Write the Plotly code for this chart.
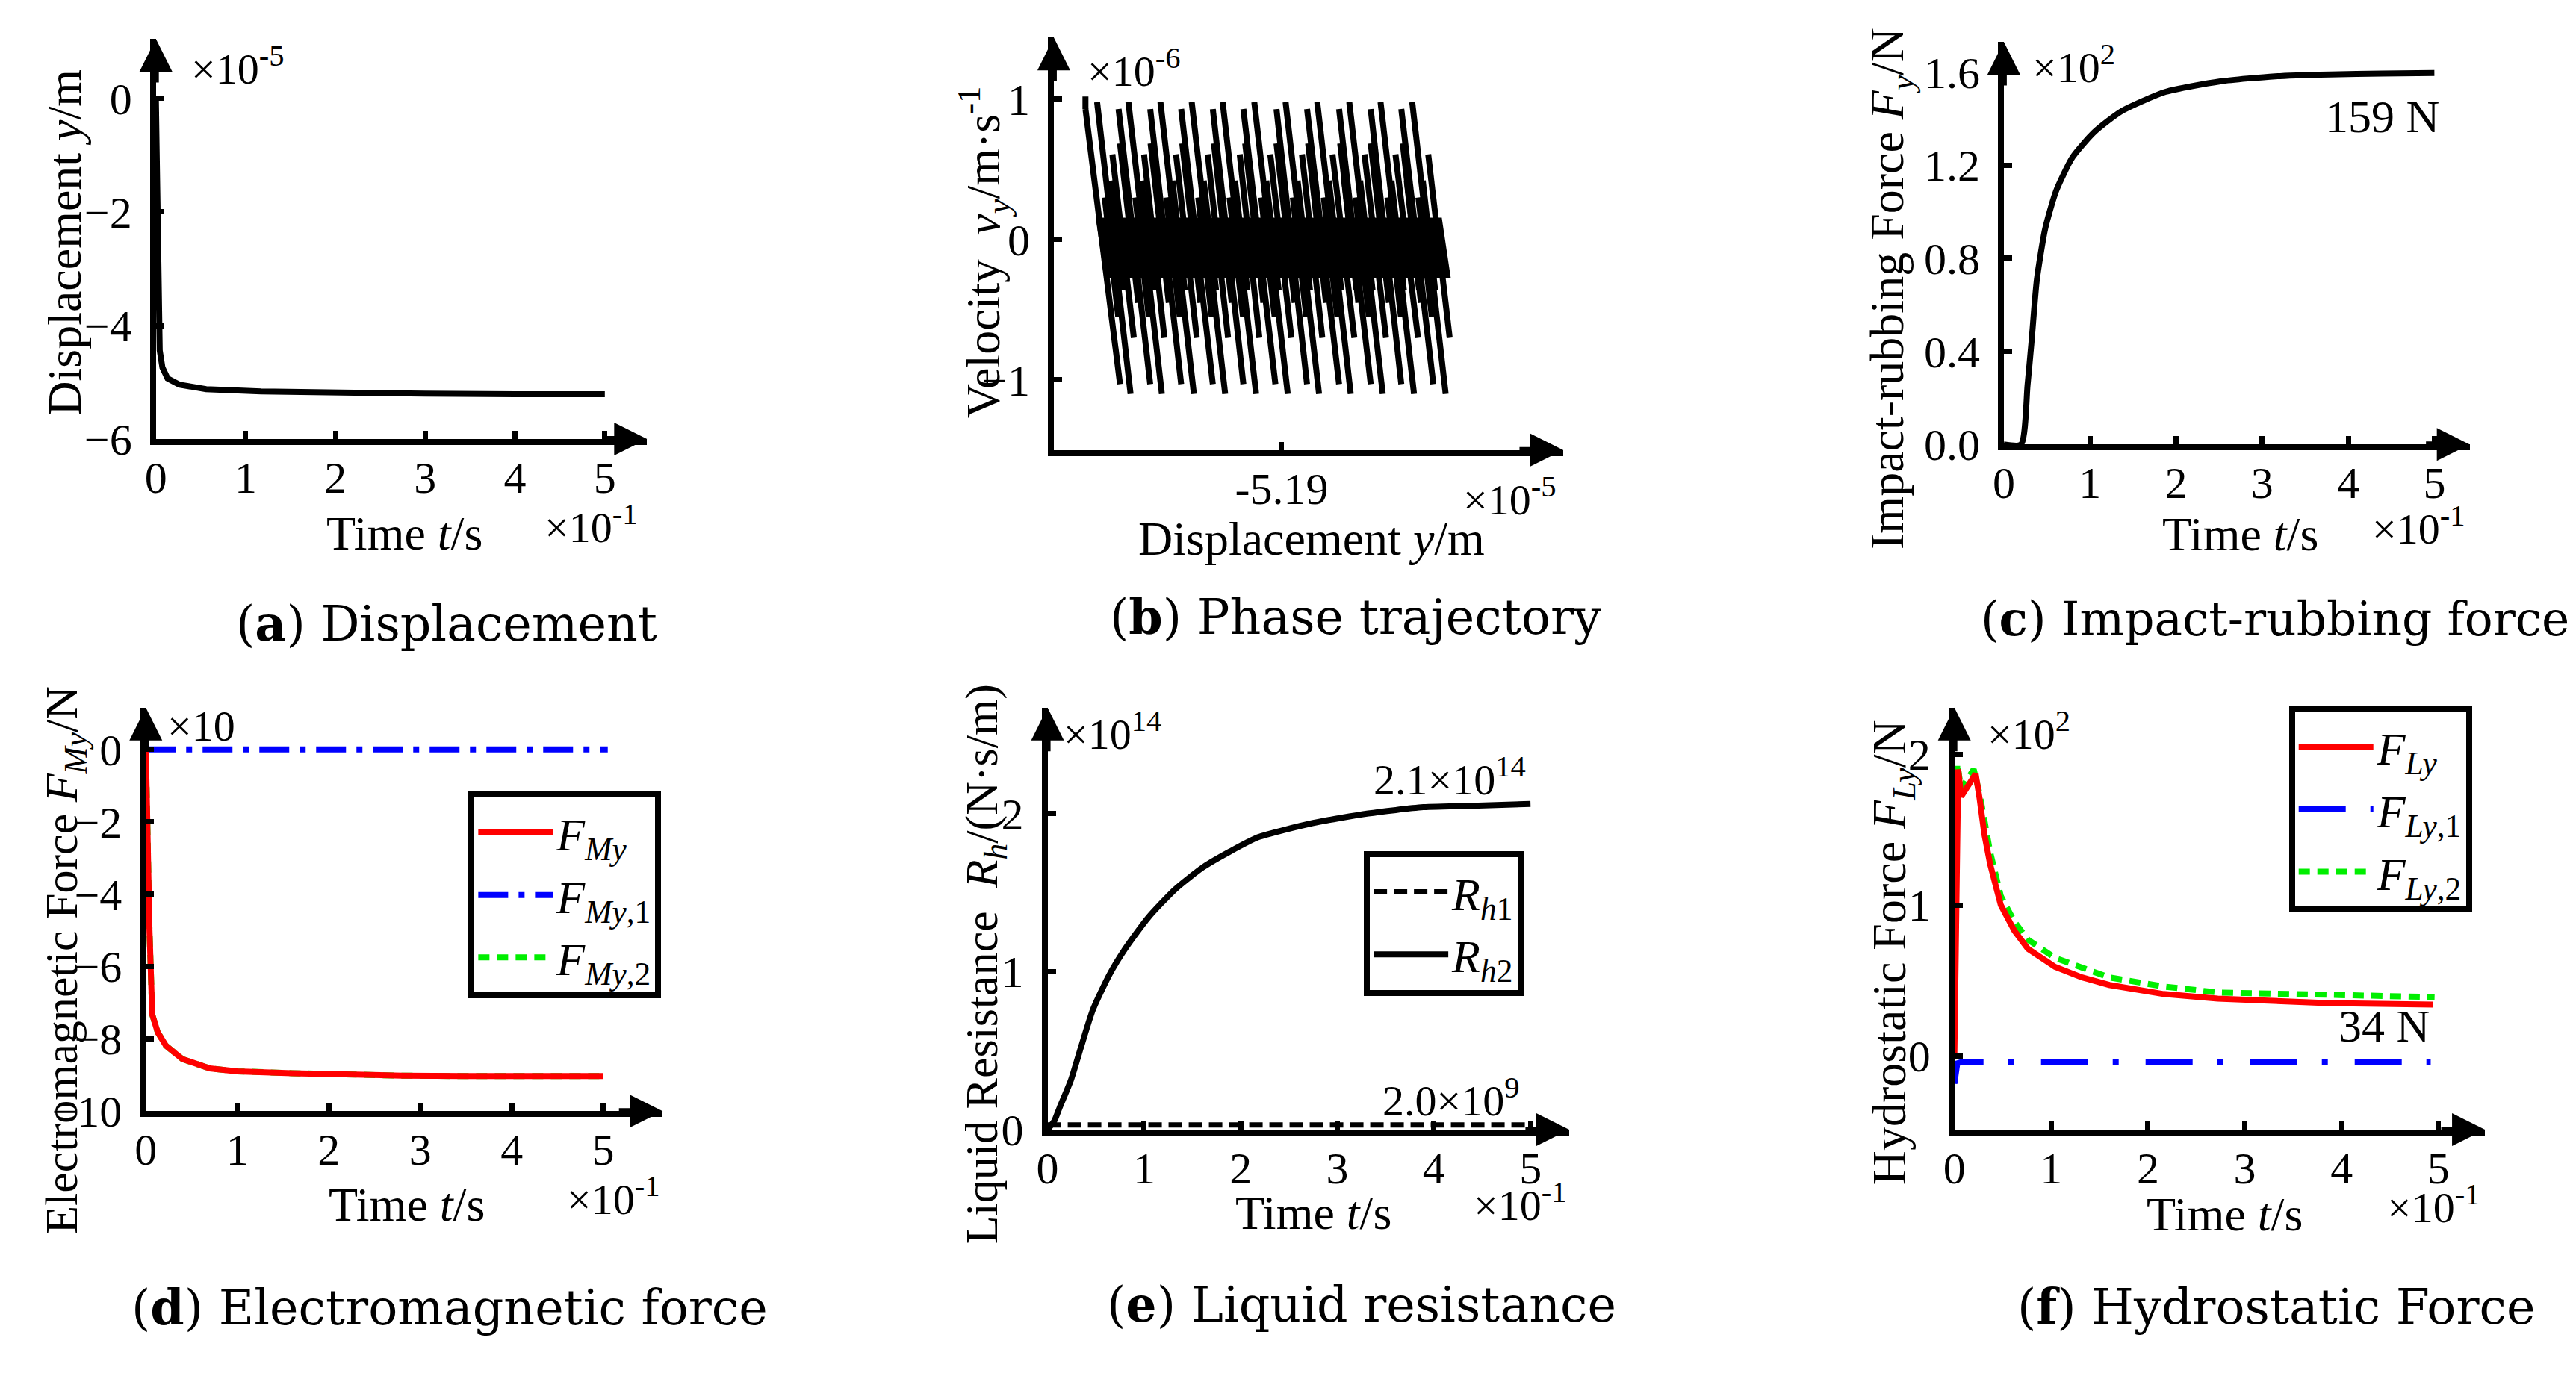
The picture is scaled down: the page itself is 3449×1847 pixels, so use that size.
import plotly.graph_objects as go

W, H = 3449, 1847
FONT = "Liberation Serif"
CAP_FONT = "DejaVu Serif"

# ---------------- data ----------------
# (a) displacement y (x1e-5 m) vs time t (x1e-1 s)
t_a = [0, 0.012, 0.024, 0.043, 0.073, 0.13, 0.26, 0.56, 1.17, 2.09, 3.0, 4.0, 5.0]
y_a = [0, -1.93, -3.56, -4.44, -4.74, -4.93, -5.04, -5.12, -5.16, -5.19, -5.2, -5.21, -5.21]

# (b) phase trajectory: displacement (x1e-5 m) / velocity (x1e-6 m/s) strokes
A_top = [-5.19507, -5.19421, -5.19333, -5.19247, -5.19162, -5.19075, -5.18989, -5.18902, -5.18814, -5.18728, -5.18641]
A_bot = [-5.19415, -5.19329, -5.19241, -5.19155, -5.19070, -5.18983, -5.18897, -5.18810, -5.18722, -5.18636, -5.18549]
A_v = [0.98, -1.10]
B_top = [-5.19539, -5.19448, -5.19361, -5.19276, -5.19189, -5.19105, -5.19014, -5.18930, -5.18842, -5.18755, -5.18671]
B_bot = [-5.19444, -5.19361, -5.19276, -5.19189, -5.19105, -5.19017, -5.18930, -5.18842, -5.18755, -5.18671, -5.18583]
B_v = [0.93, -1.03]
C_top = [-5.19465, -5.19378, -5.19290, -5.19203, -5.19115, -5.19031, -5.18944, -5.18860, -5.18772, -5.18687, -5.18597]
C_bot = [-5.19406, -5.19322, -5.19233, -5.19147, -5.19061, -5.18973, -5.18888, -5.18800, -5.18713, -5.18625, -5.18538]
C_v = [0.607, -0.70]
D_top = [-5.19444, -5.19360, -5.19273, -5.19186, -5.19100, -5.19014, -5.18927, -5.18839, -5.18755, -5.18667]
D_bot = [-5.19394, -5.19310, -5.19223, -5.19137, -5.19050, -5.18964, -5.18878, -5.18789, -5.18705, -5.18617]
D_v = [0.685, -0.45]
E_top = [-5.19486, -5.19402, -5.19317, -5.19229, -5.19143, -5.19056, -5.18969, -5.18884, -5.18797, -5.18709, -5.18624]
E_bot = [-5.19449, -5.19365, -5.19280, -5.19192, -5.19106, -5.19019, -5.18932, -5.18847, -5.18760, -5.18672, -5.18587]
E_v = [0.30, -0.55]
F_top = [-5.19470, -5.19427, -5.19385, -5.19342, -5.19300, -5.19256, -5.19214, -5.19170, -5.19128, -5.19085, -5.19042,
         -5.18999, -5.18956, -5.18913, -5.18870, -5.18828, -5.18784, -5.18741, -5.18698, -5.18656, -5.18612]
F_bot = [-5.19436, -5.19393, -5.19351, -5.19308, -5.19266, -5.19222, -5.19180, -5.19136, -5.19094, -5.19051, -5.19008,
         -5.18965, -5.18922, -5.18879, -5.18836, -5.18794, -5.18750, -5.18707, -5.18664, -5.18622, -5.18578]
F_v = [0.42, -0.36]
band_y = [-5.19510, -5.18565, -5.18542, -5.19487]
band_v = [0.14, 0.14, -0.26, -0.26]
first_top = [-5.19539]
first_v = [1.02]

# (c) impact-rubbing force (x1e2 N)
t_c = [0, 0.2, 0.276, 0.321, 0.384, 0.48, 0.607, 0.798, 1.053, 1.371, 1.879, 2.515, 3.15, 3.79, 4.4, 5.0]
f_c = [0, 0, 0.256, 0.437, 0.708, 0.926, 1.089, 1.234, 1.343, 1.433, 1.515, 1.56, 1.582, 1.59, 1.594, 1.596]

# (d) electromagnetic force (x10 N)
t_d = [0, 0.016, 0.04, 0.07, 0.13, 0.22, 0.40, 0.70, 1.0, 1.6, 2.2, 2.8, 3.5, 4.2, 5.0]
fmy = [0, -2.57, -5.0, -7.33, -7.82, -8.19, -8.56, -8.82, -8.9, -8.95, -9.0, -9.02, -9.03, -9.03, -9.03]
t_d1 = [0, 5.05]
fmy1 = [0, 0]
fmy2 = fmy

# (e) liquid resistance (x1e14 N.s/m)
t_e = [0, 0.07, 0.125, 0.24, 0.35, 0.47, 0.64, 0.81, 1.04, 1.32, 1.61, 1.89, 2.18, 2.75, 3.32, 3.89, 4.46, 5.0]
rh2 = [0, 0.056, 0.14, 0.31, 0.53, 0.76, 0.98, 1.15, 1.34, 1.52, 1.66, 1.76, 1.85, 1.94, 2.0, 2.04, 2.05, 2.06]
t_e1 = [0, 5.0]
rh1 = [0.03, 0.03]

# (f) hydrostatic force (x1e2 N)
t_f = [0, 0.017, 0.04, 0.07, 0.14, 0.22, 0.26, 0.31, 0.37, 0.48, 0.62, 0.76, 1.04, 1.32, 1.6, 2.16, 2.72, 3.29, 3.85, 4.94]
fly = [0, 0.83, 1.9, 1.72, 1.79, 1.87, 1.71, 1.47, 1.27, 1.0, 0.83, 0.71, 0.59, 0.52, 0.47, 0.41, 0.38, 0.36, 0.35, 0.34]
t_f2 = [0, 0.03, 0.07, 0.2, 0.26, 0.37, 0.48, 0.62, 0.76, 1.04, 1.6, 2.16, 2.72, 3.29, 3.85, 4.96]
fly2 = [0.24, 1.94, 1.77, 1.9, 1.74, 1.35, 1.06, 0.89, 0.77, 0.65, 0.52, 0.46, 0.42, 0.41, 0.40, 0.39]
t_f1 = [0, 0.03, 0.08, 4.92]
fly1 = [-0.185, -0.05, -0.04, -0.04]

time_ticks = [0, 1, 2, 3, 4, 5]

# ---------------- layout helpers ----------------
def xdom(p0, p1):
    return [p0 / W, p1 / W]

def ydom(top, bottom):
    return [1 - bottom / H, 1 - top / H]

panels = {
    "a": ((186.5, 847), (44.8, 591), [0, 5.47], [-6, 1.05]),
    "b": ((1394, 2079), (43, 606), [-5.19626, -5.18226], [-1.5, 1.44]),
    "c": ((2671.5, 3298), (48.9, 598.3), [0, 5.41], [0, 1.73]),
    "d": ((173, 868), (957.3, 1508), [0, 5.65], [-10, 1.16]),
    "e": ((1385.6, 2087), (957.3, 1533.3), [0, 5.4], [0, 2.67]),
    "f": ((2605, 3318.5), (957.3, 1533.3), [0, 5.48], [-0.49, 2.31]),
}
order = ["a", "b", "c", "d", "e", "f"]
axid = {k: ("" if i == 0 else str(i + 1)) for i, k in enumerate(order)}

fig = go.Figure()

def add(panel, x, y, **kw):
    i = axid[panel]
    fig.add_trace(go.Scatter(x=x, y=y, mode="lines", xaxis="x" + i, yaxis="y" + i, **kw))

LW = 8
# (a)
add("a", t_a, y_a, line=dict(color="black", width=LW), showlegend=False)

# (b)
add("b", band_y, band_v, fill="toself", fillcolor="black", line=dict(color="black", width=6), showlegend=False)
bx, bv = [], []
for tops, bots, v in [(A_top, A_bot, A_v), (B_top, B_bot, B_v), (C_top, C_bot, C_v),
                      (D_top, D_bot, D_v), (E_top, E_bot, E_v), (F_top, F_bot, F_v)]:
    for xt, xb in zip(tops, bots):
        bx += [xt, xb, None]
        bv += [v[0], v[1], None]
bx += [first_top[0], B_top[0], None]
bv += [first_v[0], B_v[0], None]
add("b", bx, bv, line=dict(color="black", width=8), showlegend=False)

# (c)
add("c", t_c, f_c, line=dict(color="black", width=LW, shape="spline", smoothing=0.6), showlegend=False)

# (d)
add("d", t_d, fmy2, name="<i>F</i><sub><i>My</i>,2</sub>", legend="legend", legendrank=3,
    line=dict(color="#00ee00", width=LW, dash="15px,10px"))
add("d", t_d1, fmy1, name="<i>F</i><sub><i>My</i>,1</sub>", legend="legend", legendrank=2,
    line=dict(color="#0000ff", width=LW, dash="40px,14px,8px,14px"))
add("d", t_d, fmy, name="<i>F</i><sub><i>My</i></sub>", legend="legend", legendrank=1,
    line=dict(color="#ff0000", width=LW))

# (e)
add("e", t_e1, rh1, name="<i>R</i><sub><i>h</i>1</sub>", legend="legend2", legendrank=1,
    line=dict(color="black", width=7, dash="18px,9px"))
add("e", t_e, rh2, name="<i>R</i><sub><i>h</i>2</sub>", legend="legend2", legendrank=2,
    line=dict(color="black", width=LW, shape="spline", smoothing=0.6))

# (f)
add("f", t_f2, fly2, name="<i>F</i><sub><i>Ly</i>,2</sub>", legend="legend3", legendrank=3,
    line=dict(color="#00ee00", width=LW, dash="15px,10px"))
add("f", t_f1, fly1, name="<i>F</i><sub><i>Ly</i>,1</sub>", legend="legend3", legendrank=2,
    line=dict(color="#0000ff", width=LW, dash="63px,33px,8px,36px"))
add("f", t_f, fly, name="<i>F</i><sub><i>Ly</i></sub>", legend="legend3", legendrank=1,
    line=dict(color="#ff0000", width=LW))

# ---------------- axes ----------------
tickfont = dict(family=FONT, size=60, color="black")
common = dict(showline=True, linecolor="black", linewidth=8, ticks="inside", ticklen=11,
              tickwidth=7, tickcolor="black", showgrid=False, zeroline=False,
              tickfont=tickfont, fixedrange=True)

ytick_cfg = {
    "a": dict(tickvals=[0, -2, -4, -6]),
    "b": dict(tickvals=[1, 0, -1]),
    "c": dict(tickvals=[0, 0.4, 0.8, 1.2, 1.6], tickformat=".1f"),
    "d": dict(tickvals=[0, -2, -4, -6, -8, -10]),
    "e": dict(tickvals=[0, 1, 2]),
    "f": dict(tickvals=[0, 1, 2]),
}
xtick_cfg = {k: dict(tickvals=time_ticks) for k in order}
xtick_cfg["b"] = dict(tickvals=[-5.19], ticktext=["-5.19"])

layout_axes = {}
for k in order:
    (x0, x1), (yt, yb), xr, yr = panels[k]
    i = axid[k]
    layout_axes["xaxis" + i] = dict(domain=xdom(x0, x1), range=xr, anchor="y" + i,
                                    ticklabelstandoff=-8, **xtick_cfg[k], **common)
    layout_axes["yaxis" + i] = dict(domain=ydom(yt, yb), range=yr, anchor="x" + i,
                                    ticklabelstandoff=12, **ytick_cfg[k], **common)

# ---------------- annotations ----------------
anns = []

def txt(text, xpx, ypx, size=58, xanchor="center", yanchor="middle", angle=0, family=FONT):
    anns.append(dict(text=text, x=xpx / W, y=1 - ypx / H, xref="paper", yref="paper",
                     xanchor=xanchor, yanchor=yanchor, textangle=angle, showarrow=False,
                     font=dict(family=family, size=size, color="black")))

for k in order:
    i = axid[k]
    xr = "x" + i
    yr = "y" + i
    anns.append(dict(x=1, y=0, xref=xr + " domain", yref=yr + " domain", ax=-60, ay=0,
                     axref="pixel", ayref="pixel", showarrow=True, arrowhead=2, arrowsize=1.1,
                     arrowwidth=8, arrowcolor="black", text=""))
    anns.append(dict(x=0, y=1, xref=xr + " domain", yref=yr + " domain", ax=0, ay=60,
                     axref="pixel", ayref="pixel", showarrow=True, arrowhead=2, arrowsize=1.1,
                     arrowwidth=8, arrowcolor="black", text=""))

TIME = "Time <i>t</i>/s"
txt(TIME, 521, 720, 64)
txt("Displacement <i>y</i>/m", 1741, 727, 64)
txt(TIME, 2990, 721, 64)
txt(TIME, 524, 1636, 64)
txt(TIME, 1743, 1647, 64)
txt(TIME, 2968, 1649, 64)
txt("Displacement <i>y</i>/m", 63, 323, 64, angle=-90)
txt("Velocity  <i>v<sub>y</sub></i>/m·s<sup>-1</sup>", 1299, 336, 64, angle=-90)
txt("Impact-rubbing Force <i>F<sub>y</sub></i>/N", 2519, 386, 64, angle=-90)
txt("Electromagnetic Force <i>F<sub>My</sub></i>/N", 63, 1302, 62, angle=-90)
txt("Liquid Resistance  <i>R<sub>h</sub></i>/(N·s/m)", 1302, 1307, 62, angle=-90)
txt("Hydrostatic Force <i>F<sub>Ly</sub></i>/N", 2522, 1292, 64, angle=-90)
txt("×10<sup>-5</sup>", 232, 82, 58, xanchor="left")
txt("×10<sup>-1</sup>", 707, 708, 58, xanchor="left")
txt("×10<sup>-6</sup>", 1437, 85, 58, xanchor="left")
txt("×10<sup>-5</sup>", 1942, 670, 58, xanchor="left")
txt("×10<sup>2</sup>", 2708, 80, 58, xanchor="left")
txt("×10<sup>-1</sup>", 3165, 710, 58, xanchor="left")
txt("×10", 200, 983, 58, xanchor="left")
txt("×10<sup>-1</sup>", 737, 1624, 58, xanchor="left")
txt("×10<sup>14</sup>", 1405, 990, 58, xanchor="left")
txt("×10<sup>-1</sup>", 1957, 1633, 58, xanchor="left")
txt("×10<sup>2</sup>", 2648, 990, 58, xanchor="left")
txt("×10<sup>-1</sup>", 3185, 1636, 58, xanchor="left")
txt("159 N", 3180, 151, 62)
txt("34 N", 3183, 1392, 62)
txt("2.1×10<sup>14</sup>", 1926, 1052, 58)
txt("2.0×10<sup>9</sup>", 1928, 1490, 58)
txt("(<b>a</b>) Displacement", 578, 842, 65, family=CAP_FONT)
txt("(<b>b</b>) Phase trajectory", 1800, 833, 65, family=CAP_FONT)
txt("(<b>c</b>) Impact-rubbing force", 3036, 836, 63, family=CAP_FONT)
txt("(<b>d</b>) Electromagnetic force", 582, 1776, 65, family=CAP_FONT)
txt("(<b>e</b>) Liquid resistance", 1808, 1772, 65, family=CAP_FONT)
txt("(<b>f</b>) Hydrostatic Force", 3038, 1775, 65, family=CAP_FONT)

legend_common = dict(bordercolor="black", borderwidth=8, bgcolor="white",
                     font=dict(family=FONT, size=62, color="black"),
                     xanchor="left", yanchor="top", itemwidth=100, tracegroupgap=0,
                     traceorder="normal")

fig.update_layout(
    width=W, height=H,
    margin=dict(l=0, r=0, t=0, b=0),
    paper_bgcolor="white", plot_bgcolor="white",
    font=dict(family=FONT, color="black"),
    annotations=anns,
    legend=dict(x=607 / W, y=1 - 1072 / H, **legend_common),
    legend2=dict(x=1811 / W, y=1 - 1153 / H, **legend_common),
    legend3=dict(x=3055 / W, y=1 - 955 / H, **legend_common),
    **layout_axes,
)

fig.write_html("out.html")
